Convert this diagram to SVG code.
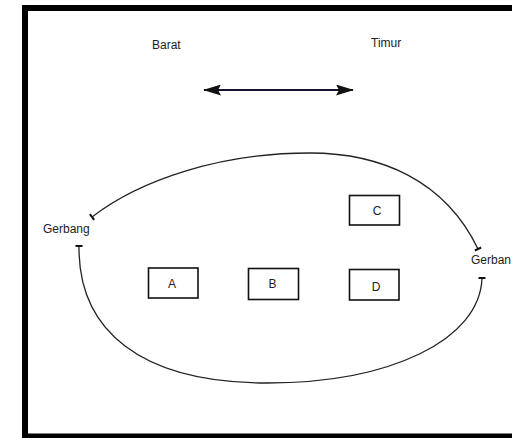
<svg xmlns="http://www.w3.org/2000/svg" width="512" height="438" viewBox="0 0 512 438">
<style>
text{font-family:"Liberation Sans",Arial,sans-serif;font-size:12px;fill:#222}
.box rect{fill:#fff;stroke:#111;stroke-width:1.6}
.box text{text-anchor:middle}
.curve{fill:none;stroke:#222;stroke-width:1.3}
</style>
<defs>
<marker id="tbar" viewBox="-5 -5 10 10" markerWidth="10" markerHeight="10" markerUnits="userSpaceOnUse" orient="auto">
<line x1="0" y1="-3.5" x2="0" y2="3.5" stroke="#111" stroke-width="2"/>
</marker>
<marker id="ah" viewBox="0 0 18 11" refX="17" refY="5.5" markerWidth="18" markerHeight="11" markerUnits="userSpaceOnUse" orient="auto-start-reverse">
<path d="M0,0 L18,5.5 L0,11 L3,5.5 Z" fill="#111"/>
</marker>
</defs>
<rect width="512" height="438" fill="#fff"/>
<g id="frame" fill="#000">
<rect x="22" y="5" width="6" height="433"/>
<rect x="22" y="5" width="490" height="6"/>
<rect x="22" y="433.5" width="490" height="4.5"/>
</g>
<g id="labels">
<text x="152" y="49" font-size="12.5">Barat</text>
<text x="371" y="47" font-size="12.5">Timur</text>
<text x="43" y="233">Gerbang</text>
<text x="471" y="264">Gerban</text>
</g>
<g id="connectors">
<line x1="204" y1="90" x2="353" y2="90" stroke="#1a1030" stroke-width="2" marker-start="url(#ah)" marker-end="url(#ah)"/>
<path class="curve" d="M478,249 C445,180 380,153 310,153 C220,153 140,180 92,217" marker-start="url(#tbar)" marker-end="url(#tbar)"/>
<path class="curve" d="M79,246 C78,330 140,383 267,383 C390,383 480,340 482,278" marker-start="url(#tbar)" marker-end="url(#tbar)"/>
</g>
<g id="A" class="box"><rect x="148.5" y="268" width="49.5" height="30"/><text x="172" y="288">A</text></g>
<g id="B" class="box"><rect x="248.5" y="268.5" width="50" height="31"/><text x="272.5" y="288">B</text></g>
<g id="C" class="box"><rect x="349.5" y="195.5" width="50" height="29.5"/><text x="377" y="215">C</text></g>
<g id="D" class="box"><rect x="349.5" y="269.5" width="49.5" height="30.5"/><text x="376" y="291">D</text></g>
</svg>
